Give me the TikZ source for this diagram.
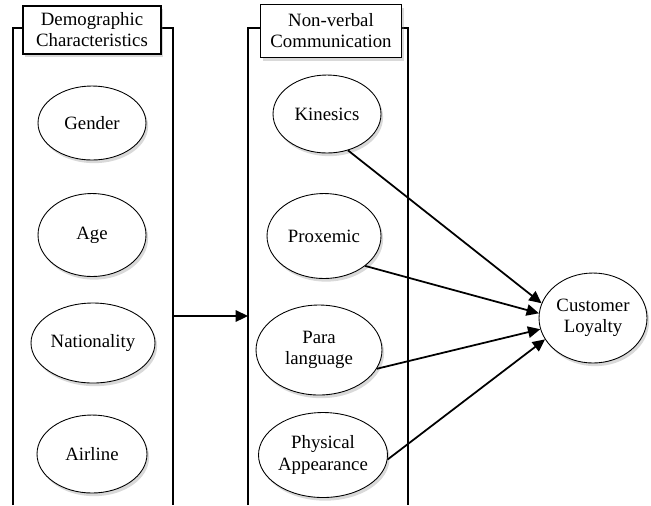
\documentclass[tikz,border=0pt]{standalone}
\usepackage{fontspec}
\setmainfont{Liberation Serif}
\usetikzlibrary{arrows.meta,shapes,shadows}
\tikzstyle{factor} = [ellipse, draw, line width=0.5pt, fill=white, align=center, inner sep=0pt,
    drop shadow={shadow xshift=1.2pt, shadow yshift=-1.8pt, opacity=0.3}]
\tikzstyle{group} = [rectangle, draw, line width=0.6pt, fill=white, align=center, inner sep=0pt,
    drop shadow={shadow xshift=1.2pt, shadow yshift=-1.8pt, opacity=0.3}]
\tikzstyle{frame} = [line width=1.1pt]

\begin{document}
\begin{tikzpicture}[x=0.02cm,y=-0.02cm,>={Triangle[length=7pt,width=6.5pt]},
                    font=\fontsize{10.7}{12}\selectfont]
  \useasboundingbox (0,0) rectangle (651,505);

  % frames
  \draw[frame] (13,505) -- (13,28) -- (173,28) -- (173,505);
  \draw[frame] (248,505) -- (248,28) -- (408,28) -- (408,505);
  \coordinate (dr) at (173,316);
  \coordinate (nl) at (248,316);

  \node[group,minimum width=2.76cm,minimum height=0.96cm] (demo) at (92,30)
      {Demographic\\Characteristics};
  \node[group,minimum width=2.82cm,minimum height=1.06cm] (nonv) at (331,31)
      {Non-verbal\\Communication};

  \node[factor,minimum width=2.16cm,minimum height=1.48cm] (gen) at (92,123) {Gender};
  \node[factor,minimum width=2.16cm,minimum height=1.66cm] (age) at (92,235) {Age};
  \node[factor,minimum width=2.48cm,minimum height=1.6cm]  (nat) at (93,343) {Nationality};
  \node[factor,minimum width=2.2cm,minimum height=1.56cm]  (air) at (92,454) {Airline};

  \node[factor,minimum width=2.16cm,minimum height=1.56cm] (kin) at (327,114) {Kinesics};
  \node[factor,minimum width=2.28cm,minimum height=1.7cm]  (pro) at (324,236) {Proxemic};
  \node[factor,minimum width=2.52cm,minimum height=1.8cm]  (para) at (319,350) {Para\\language};
  \node[factor,minimum width=2.58cm,minimum height=1.7cm]  (phy) at (323,455) {Physical\\Appearance};

  \node[factor,minimum width=2.16cm,minimum height=1.8cm]  (cl) at (593,318) {Customer\\Loyalty};

  \path[->,line width=1pt] (dr) edge (nl)
            (kin.300) edge (cl.164)
            (pro.324) edge (cl.175)
            (para.342) edge (cl.192)
            (phy.356) edge (cl.204);
\end{tikzpicture}
\end{document}
